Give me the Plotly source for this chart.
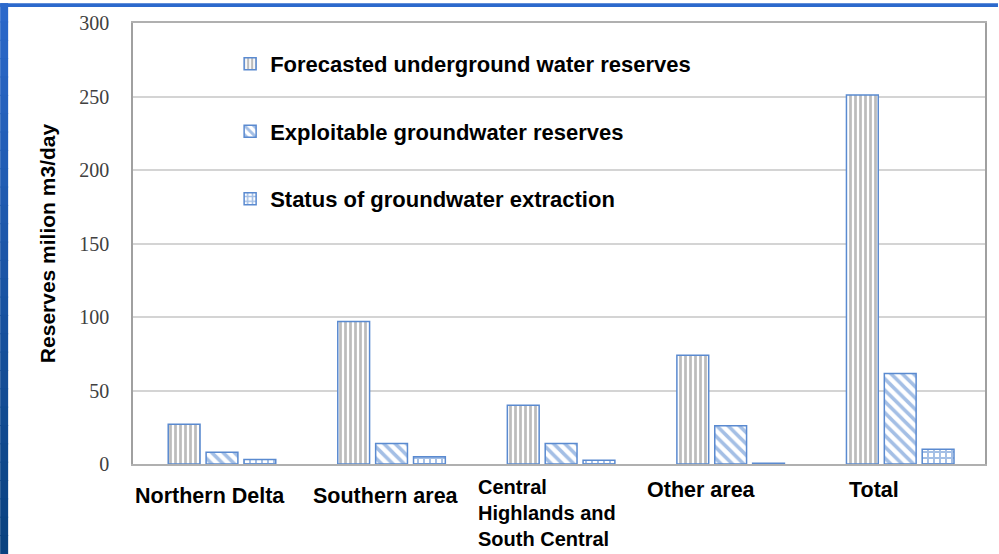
import plotly.graph_objects as go

categories = ["Northern Delta", "Southern area", "Central Highlands and South Central", "Other area", "Total"]
label_text = ["Northern Delta", "Southern area", "Central<br>Highlands and<br>South Central", "Other area", "Total"]
forecasted = [27, 97, 40, 74, 251]
exploitable = [8, 14, 14, 26, 61.5]
extraction = [3, 5, 2.5, 0.5, 10]
y_ticks = [0, 50, 100, 150, 200, 250, 300]

series_names = ["Forecasted underground water reserves",
                "Exploitable groundwater reserves",
                "Status of groundwater extraction"]

BLUE = "#5a8ad0"
fig = go.Figure()
fig.add_trace(go.Bar(
    x=categories, y=forecasted, name=series_names[0], legendgroup="a",
    marker=dict(color="white", line=dict(color=BLUE, width=1.5),
                pattern=dict(shape="|", fgcolor="#7a7a7a", bgcolor="white", size=5, solidity=0.55, fillmode="overlay"))))
fig.add_trace(go.Bar(
    x=categories, y=exploitable, name=series_names[1], legendgroup="b",
    marker=dict(color="white", line=dict(color=BLUE, width=1.5),
                pattern=dict(shape="\\", fgcolor="#4a7fcc", bgcolor="white", size=8, solidity=0.45, fillmode="overlay"))))
fig.add_trace(go.Bar(
    x=categories, y=extraction, name=series_names[2], legendgroup="c",
    marker=dict(color="white", line=dict(color=BLUE, width=1.5),
                pattern=dict(shape="+", fgcolor="#4a7fcc", bgcolor="white", size=6, solidity=0.55, fillmode="overlay"))))

# x labels as annotations (offset like the reference)
shifts = [-12, -6, -14, -29, -26]
tops = [18, 18, 10, 12, 12]
sizes = [21.5, 21.5, 20, 21.5, 21.5]
for c, t, s, tp, fs in zip(categories, label_text, shifts, tops, sizes):
    fig.add_annotation(x=c, y=0, xref="x", yref="y", text=t, showarrow=False,
                       xanchor="center", yanchor="top", xshift=s, yshift=-tp,
                       align="left",
                       font=dict(family="Liberation Sans, Arial", size=fs, color="black", weight="bold"))

# decorative blue border (gradient on left)
n = 30
top_c = (0x2b, 0x68, 0xca)
bot_c = (0x0a, 0x42, 0x80)
H = 554.0
for i in range(n):
    f = i / (n - 1)
    col = "rgb(%d,%d,%d)" % tuple(int(top_c[k] + (bot_c[k] - top_c[k]) * f) for k in range(3))
    py0 = i / n * H
    py1 = (i + 1) / n * H + 1
    fig.add_shape(type="rect", xref="paper", yref="paper",
                  x0=-133 / 853, x1=(-133 + 8) / 853,
                  y0=(464 - py0) / 444, y1=(464 - py1) / 444,
                  fillcolor=col, line=dict(width=0), layer="above")
fig.add_shape(type="rect", xref="paper", yref="paper",
              x0=-133 / 853, x1=(999 - 133) / 853, y0=(464 - 0) / 444, y1=(464 - 4) / 444,
              fillcolor="#2c69cc", line=dict(width=0), layer="above")

fig.update_layout(
    width=999, height=554,
    margin=dict(l=133, r=13, t=20, b=90),
    paper_bgcolor="white", plot_bgcolor="white",
    barmode="group", bargap=0.33, bargroupgap=0.16,
    showlegend=True,
    legend=dict(x=0.114, y=0.955, xanchor="left", yanchor="top",
                bgcolor="rgba(0,0,0,0)", tracegroupgap=36,
                font=dict(family="Liberation Sans, Arial", size=22, color="black", weight="bold")),
    xaxis=dict(showticklabels=False, showline=True, linecolor="#b0b0b0", linewidth=1.5,
               mirror=True, ticks="", showgrid=False),
    yaxis=dict(range=[0, 300], tickvals=y_ticks, showgrid=True, gridcolor="#d4d4d4", gridwidth=1.5,
               showline=True, linecolor="#a0a0a0", linewidth=1.5, mirror=True, zeroline=False,
               ticks="", ticklabelstandoff=18,
               tickfont=dict(family="Liberation Serif, Times New Roman", size=20, color="#404040"),
               title=dict(text="Reserves milion m3/day", standoff=18,
                          font=dict(family="Liberation Sans, Arial", size=21, color="black", weight="bold"))),
)

fig.write_html("out.html", config={"displayModeBar": False},
               post_script="document.body.style.margin='0';document.body.style.padding='0';")
